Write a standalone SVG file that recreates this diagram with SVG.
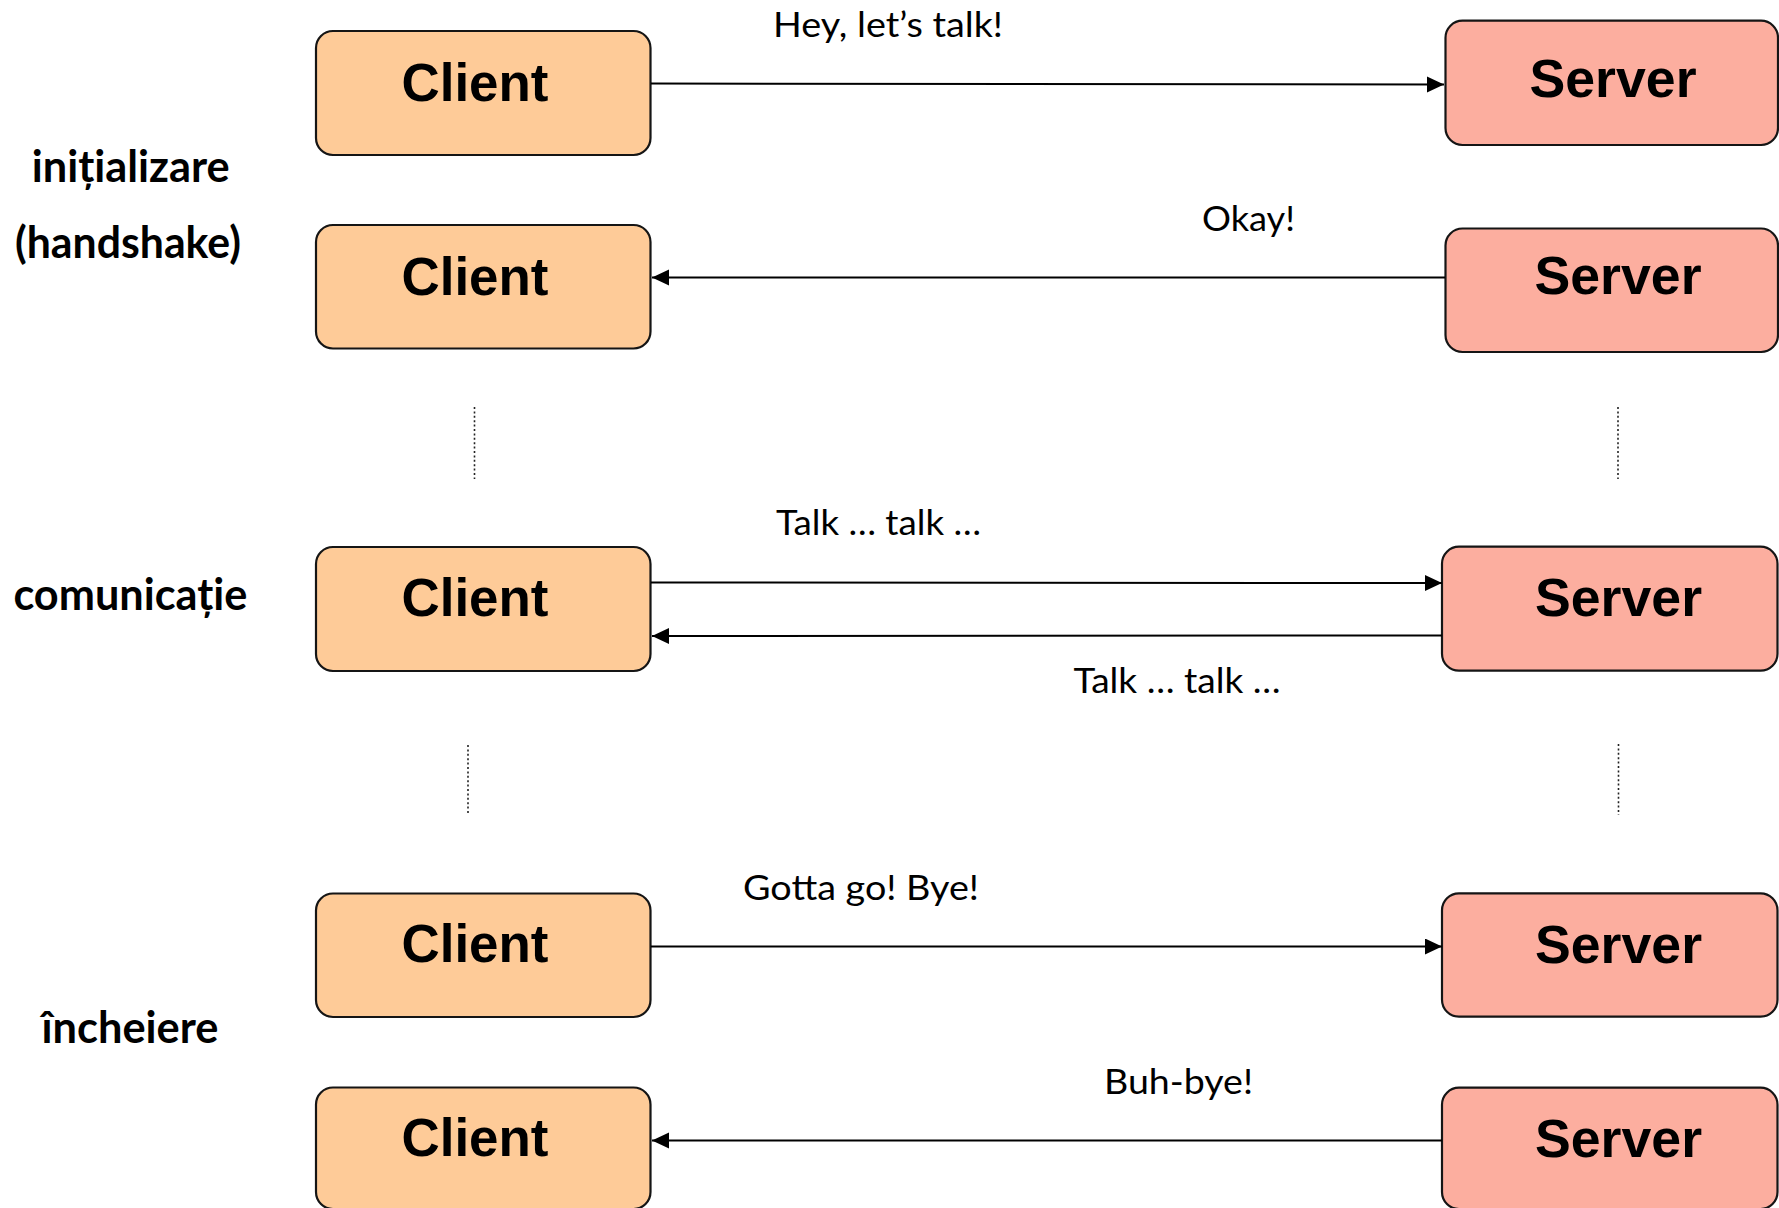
<svg xmlns="http://www.w3.org/2000/svg" width="1779" height="1208" viewBox="0 0 1779 1208">
  <style>
    .client { fill: #FECB98; stroke: #151515; stroke-width: 2.2; }
    .server { fill: #FCAE9F; stroke: #151515; stroke-width: 2.2; }
    .node-label { font-family: "Liberation Sans", Arial, sans-serif; font-weight: bold; font-size: 54.5px; fill: #000; text-anchor: middle; }
    .msg { font-family: Lato, "Open Sans", "Noto Sans", sans-serif; font-size: 35.5px; fill: #000; }
    .phase { font-family: Lato, "Open Sans", "Noto Sans", sans-serif; font-weight: bold; font-size: 43px; fill: #000; }
    .link { fill: none; stroke: #000; stroke-width: 2; marker-end: url(#arrow); }
    .dots { fill: none; stroke: #222; stroke-width: 1.6; stroke-dasharray: 2 2.4; }
  </style>
  <defs>
    <marker id="arrow" markerUnits="userSpaceOnUse" markerWidth="18" markerHeight="17" refX="17" refY="8" orient="auto">
      <path d="M0,0 L17,8 L0,16 z" fill="#000"/>
    </marker>
  </defs>

  <rect width="1779" height="1208" fill="#fff"/>

  <!-- phase labels -->
  <g id="phases">
    <text class="phase" x="31.7" y="182.3" textLength="198" lengthAdjust="spacingAndGlyphs">inițializare</text>
    <text class="phase" x="15" y="258.3" textLength="226" lengthAdjust="spacingAndGlyphs">(handshake)</text>
    <text class="phase" x="13.4" y="610" textLength="234" lengthAdjust="spacingAndGlyphs">comunicație</text>
    <text class="phase" x="41.5" y="1043.3" textLength="177" lengthAdjust="spacingAndGlyphs">încheiere</text>
  </g>

  <!-- client nodes -->
  <g id="client-1"><rect class="client" x="316" y="31" width="334.5" height="124" rx="17"/><text class="node-label" x="475" y="100.7" textLength="147" lengthAdjust="spacingAndGlyphs">Client</text></g>
  <g id="client-2"><rect class="client" x="316" y="225" width="334.5" height="123.5" rx="17"/><text class="node-label" x="475" y="295" textLength="147" lengthAdjust="spacingAndGlyphs">Client</text></g>
  <g id="client-3"><rect class="client" x="316" y="547" width="334.5" height="124" rx="17"/><text class="node-label" x="475" y="616" textLength="147" lengthAdjust="spacingAndGlyphs">Client</text></g>
  <g id="client-4"><rect class="client" x="316" y="893.5" width="334.5" height="123.5" rx="17"/><text class="node-label" x="475" y="962" textLength="147" lengthAdjust="spacingAndGlyphs">Client</text></g>
  <g id="client-5"><rect class="client" x="316" y="1087.5" width="334.5" height="121.5" rx="17"/><text class="node-label" x="475" y="1156" textLength="147" lengthAdjust="spacingAndGlyphs">Client</text></g>

  <!-- server nodes -->
  <g id="server-1"><rect class="server" x="1445.5" y="20.7" width="332.5" height="124.3" rx="17"/><text class="node-label" x="1613" y="97.3" textLength="167" lengthAdjust="spacingAndGlyphs">Server</text></g>
  <g id="server-2"><rect class="server" x="1445.5" y="228.5" width="332.5" height="123.5" rx="17"/><text class="node-label" x="1618" y="293.5" textLength="167" lengthAdjust="spacingAndGlyphs">Server</text></g>
  <g id="server-3"><rect class="server" x="1442" y="546.7" width="335.5" height="124" rx="17"/><text class="node-label" x="1618.5" y="616" textLength="167" lengthAdjust="spacingAndGlyphs">Server</text></g>
  <g id="server-4"><rect class="server" x="1442" y="893.3" width="335.5" height="123.4" rx="17"/><text class="node-label" x="1618.5" y="962.5" textLength="167" lengthAdjust="spacingAndGlyphs">Server</text></g>
  <g id="server-5"><rect class="server" x="1442" y="1087.7" width="335.5" height="121.3" rx="17"/><text class="node-label" x="1618.5" y="1156.5" textLength="167" lengthAdjust="spacingAndGlyphs">Server</text></g>

  <!-- message connectors -->
  <g id="connectors">
    <path class="link" d="M651,83.5 L1444,84.5"/>
    <path class="link" d="M1445,277.5 L652,277.5"/>
    <path class="link" d="M651,582.5 L1442,583"/>
    <path class="link" d="M1442,635.5 L652,636"/>
    <path class="link" d="M651,946.5 L1442,946.5"/>
    <path class="link" d="M1442,1140.5 L652,1140.5"/>

    <path class="dots" d="M474.5,407 V479"/>
    <path class="dots" d="M1618,407 V479"/>
    <path class="dots" d="M468,745 V813"/>
    <path class="dots" d="M1618.5,744 V815"/>
  </g>

  <!-- message labels -->
  <g id="messages">
    <text class="msg" x="773" y="36.5" textLength="230" lengthAdjust="spacingAndGlyphs">Hey, let’s talk!</text>
    <text class="msg" x="1202" y="230.7" textLength="93" lengthAdjust="spacingAndGlyphs">Okay!</text>
    <text class="msg" x="776" y="535" textLength="205" lengthAdjust="spacingAndGlyphs">Talk … talk …</text>
    <text class="msg" x="1073.5" y="692.7" textLength="207" lengthAdjust="spacingAndGlyphs">Talk … talk …</text>
    <text class="msg" x="743" y="900" textLength="236" lengthAdjust="spacingAndGlyphs">Gotta go! Bye!</text>
    <text class="msg" x="1104" y="1094.3" textLength="149" lengthAdjust="spacingAndGlyphs">Buh-bye!</text>
  </g>
</svg>
